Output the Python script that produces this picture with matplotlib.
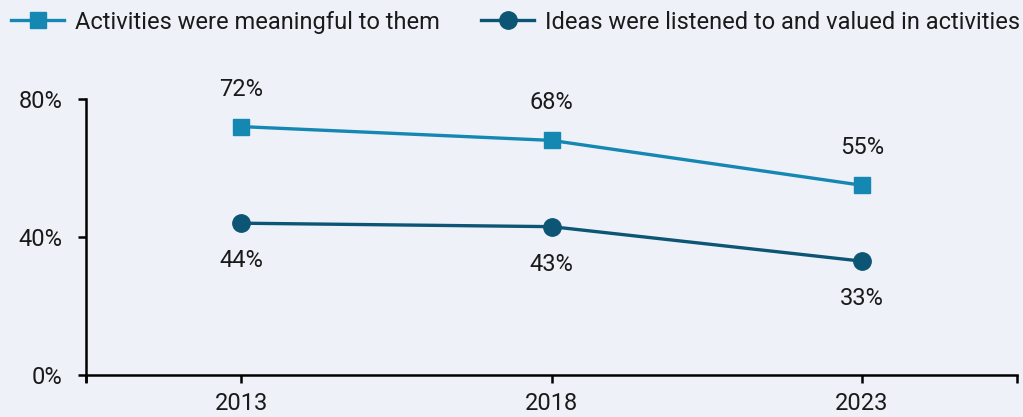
import matplotlib
matplotlib.use("Agg")
import matplotlib.pyplot as plt
from matplotlib.ticker import FixedLocator

years = [2013, 2018, 2023]
meaningful = [72, 68, 55]
listened = [44, 43, 33]
series_labels = ["Activities were meaningful to them",
                 "Ideas were listened to and valued in activities"]
y_ticks = [0, 40, 80]

bg = "#eef1f8"
c_meaningful = "#1487b3"
c_listened = "#0d5574"
ink = "#1a1a1a"

plt.rcParams["font.family"] = ["Roboto", "DejaVu Sans"]

fig = plt.figure(figsize=(10.23, 4.17), dpi=100, facecolor=bg)
ax = fig.add_axes([86 / 1023, 42 / 417, (1017 - 86) / 1023, (375 - 99) / 417])
ax.set_facecolor(bg)

ax.plot(years, meaningful, color=c_meaningful, lw=2.4, marker="s", ms=11.5,
        label=series_labels[0], clip_on=False)
ax.plot(years, listened, color=c_listened, lw=2.4, marker="o", ms=12.5,
        label=series_labels[1], clip_on=False)

# value labels: above the upper series, below the lower one
for x, v in zip(years, meaningful):
    ax.annotate(f"{v}%", (x, v), xytext=(0, 27), textcoords="offset points",
                ha="center", va="center", fontsize=17, color=ink)
for x, v in zip(years, listened):
    ax.annotate(f"{v}%", (x, v), xytext=(0, -27), textcoords="offset points",
                ha="center", va="center", fontsize=17, color=ink)

ax.set_xlim(2010.5, 2025.5)
ax.set_ylim(0, 80)
ax.set_xticks(years)
ax.xaxis.set_minor_locator(FixedLocator([2010.5, 2025.5]))
ax.set_yticks(y_ticks)
ax.set_yticklabels([f"{t}%" for t in y_ticks])

for s in ("top", "right"):
    ax.spines[s].set_visible(False)
for s in ("left", "bottom"):
    ax.spines[s].set_linewidth(1.8)
    ax.spines[s].set_color("black")
ax.spines["left"].set_bounds(-1.6, 80)

ax.tick_params(axis="both", which="both", length=6, width=1.8, color="black",
               labelsize=17, labelcolor=ink)
ax.tick_params(axis="x", pad=6)
ax.tick_params(axis="y", pad=11)

fig.legend(loc="center left", bbox_to_anchor=(0.011, 0.947), ncol=2, frameon=False,
           fontsize=17, handlelength=2.25, handletextpad=0.45, columnspacing=1.75,
           borderpad=0, borderaxespad=0, labelcolor=ink)

fig.savefig("out.png", dpi=100, facecolor=bg)
